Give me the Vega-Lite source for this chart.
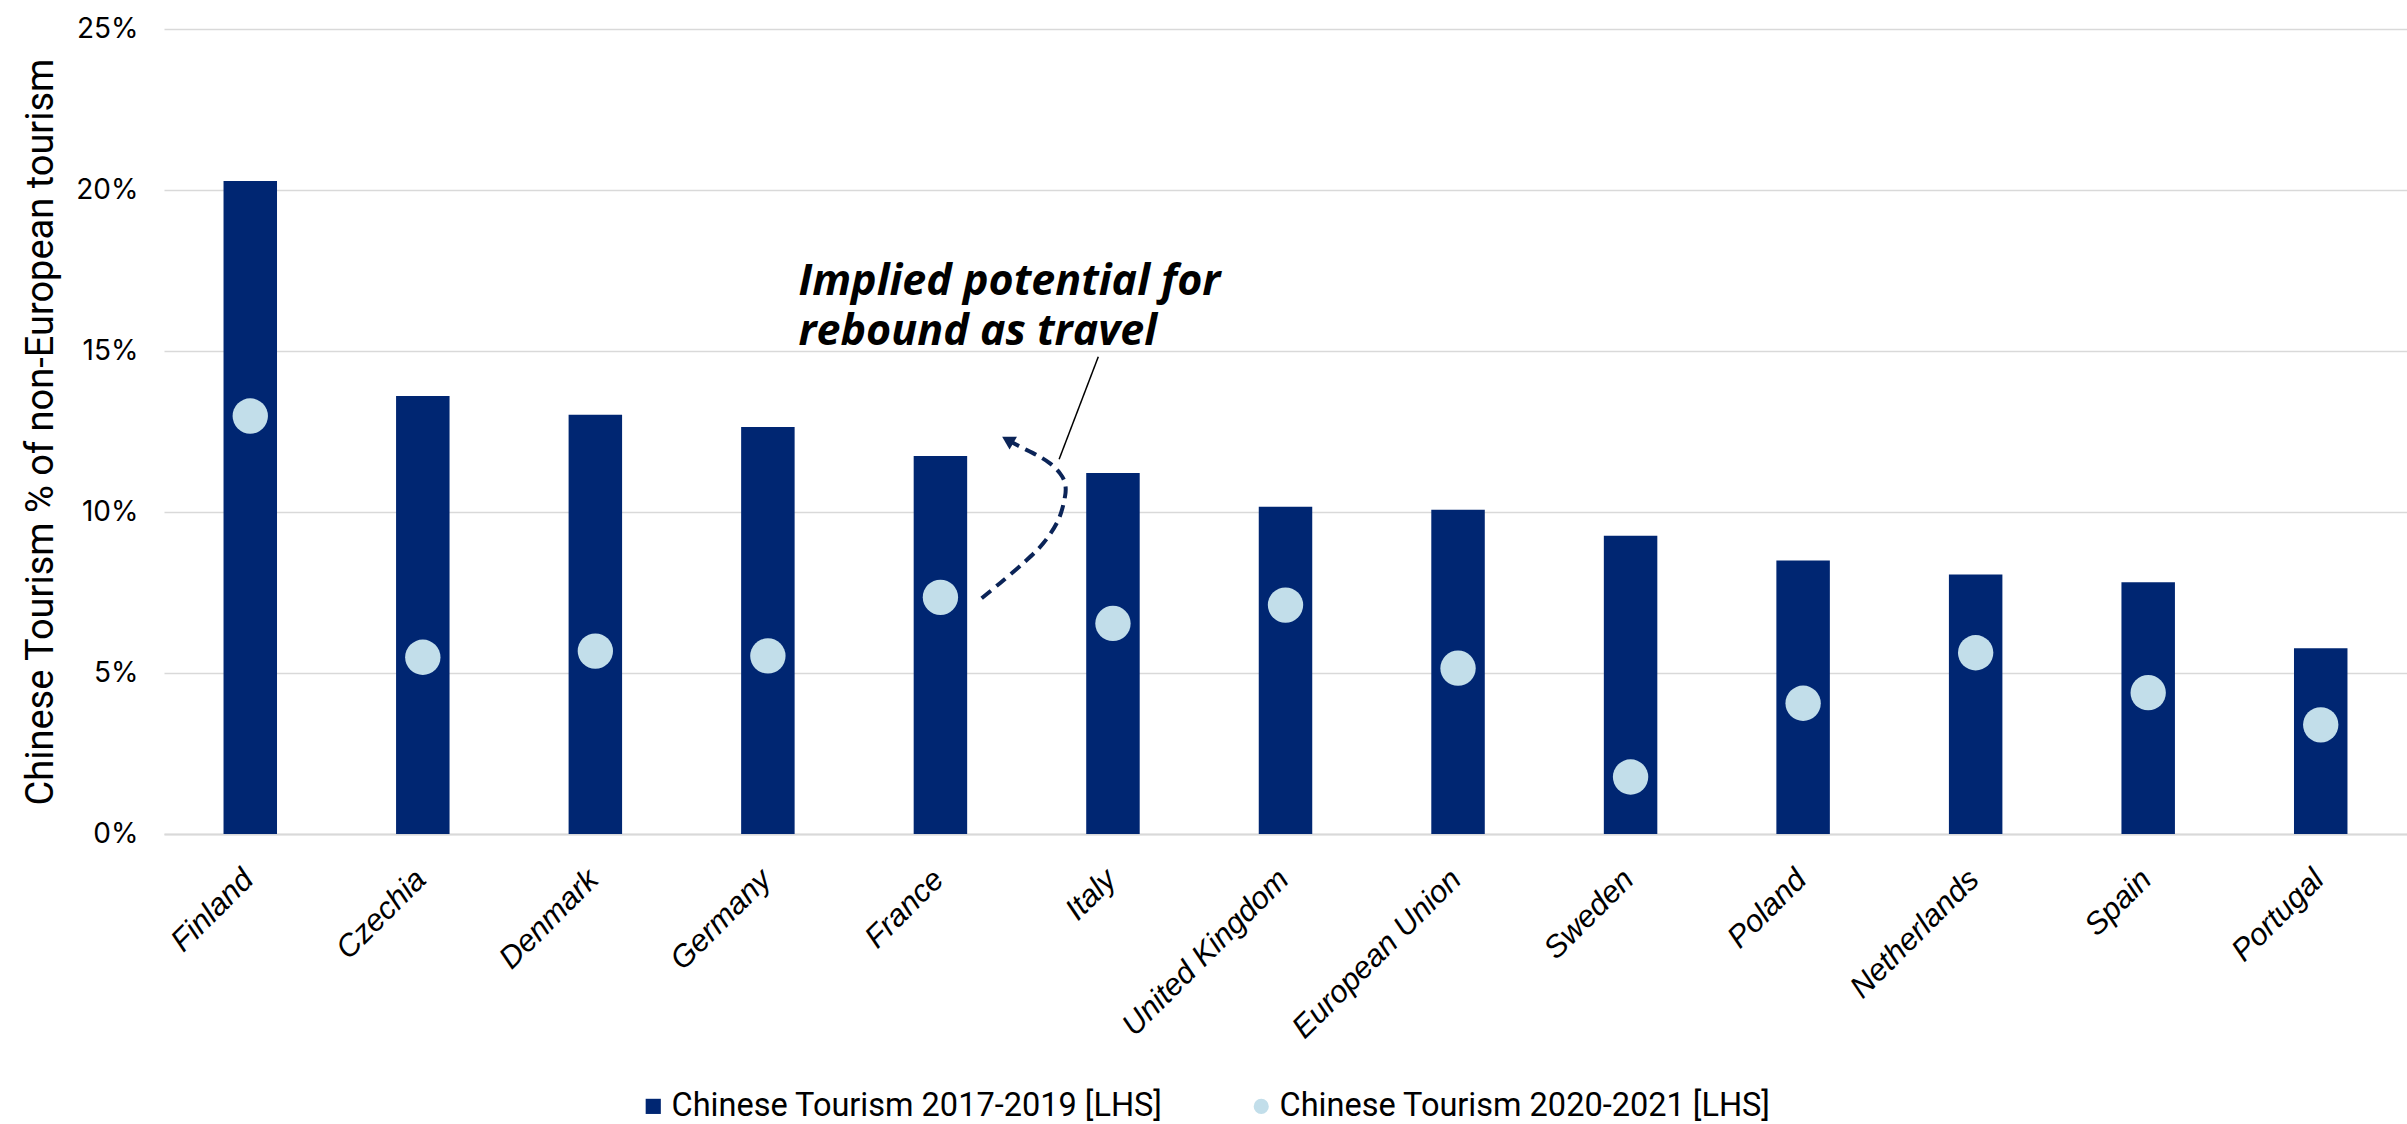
{
  "$schema": "https://vega.github.io/schema/vega-lite/v6.json",
  "width": 2243,
  "height": 805,
  "autosize": {"type": "none"},
  "padding": {"left": 164, "top": 29, "right": 0, "bottom": 290},
  "background": "white",
  "config": {"view": {"stroke": null}, "font": "Roboto"},
  "datasets": {
    "tourism": [
      {"country": "Finland", "pre": 20.28, "post": 12.98},
      {"country": "Czechia", "pre": 13.6, "post": 5.49},
      {"country": "Denmark", "pre": 13.02, "post": 5.68},
      {"country": "Germany", "pre": 12.64, "post": 5.53},
      {"country": "France", "pre": 11.74, "post": 7.35},
      {"country": "Italy", "pre": 11.21, "post": 6.54},
      {"country": "United Kingdom", "pre": 10.16, "post": 7.11},
      {"country": "European Union", "pre": 10.07, "post": 5.15},
      {"country": "Sweden", "pre": 9.26, "post": 1.77},
      {"country": "Poland", "pre": 8.49, "post": 4.06},
      {"country": "Netherlands", "pre": 8.06, "post": 5.63},
      {"country": "Spain", "pre": 7.82, "post": 4.39},
      {"country": "Portugal", "pre": 5.77, "post": 3.39}
    ],
    "note": [
      {"ax": 3.677, "ay": 16.74, "label": "Implied potential for"},
      {"ax": 3.677, "ay": 15.19, "label": "rebound as travel"}
    ],
    "leader": [
      {"ax": 5.415, "ay": 14.82, "ax2": 5.188, "ay2": 11.64}
    ],
    "curve": [
      {"i": 1, "ax": 4.739, "ay": 7.32},
      {"i": 2, "ax": 4.845, "ay": 7.79},
      {"i": 3, "ax": 4.98, "ay": 8.41},
      {"i": 4, "ax": 5.096, "ay": 9.03},
      {"i": 5, "ax": 5.183, "ay": 9.75},
      {"i": 6, "ax": 5.222, "ay": 10.48},
      {"i": 7, "ax": 5.222, "ay": 10.89},
      {"i": 8, "ax": 5.193, "ay": 11.2},
      {"i": 9, "ax": 5.135, "ay": 11.51},
      {"i": 10, "ax": 5.058, "ay": 11.77},
      {"i": 11, "ax": 4.961, "ay": 12.03},
      {"i": 12, "ax": 4.91, "ay": 12.18}
    ],
    "head": [
      {"ax": 4.89, "ay": 12.24}
    ]
  },
  "layer": [
    {
      "data": {"name": "tourism"},
      "encoding": {
        "x": {
          "field": "country",
          "type": "nominal",
          "sort": null,
          "scale": {"paddingInner": 0.69, "paddingOuter": 0.345},
          "axis": {
            "title": null,
            "domainColor": "#d9d9d9",
            "domainWidth": 2,
            "ticks": false,
            "labelAngle": -45,
            "labelFont": "Liberation Sans",
            "labelFontStyle": "italic",
            "labelFontSize": 31,
            "labelColor": "#000000",
            "labelPadding": 30,
            "labelOffset": -12,
            "labelLimit": 0
          }
        }
      },
      "layer": [
        {
          "mark": {"type": "bar"},
          "encoding": {
            "y": {
              "field": "pre",
              "type": "quantitative",
              "title": "Chinese Tourism % of non-European tourism",
              "scale": {"domain": [0, 25], "nice": false},
              "axis": {
                "values": [0, 5, 10, 15, 20, 25],
                "labelExpr": "datum.value + '%'",
                "domain": false,
                "ticks": false,
                "gridColor": "#d9d9d9",
                "gridWidth": 1.5,
                "labelFont": "Inter",
                "labelFontSize": 28,
                "labelColor": "#000000",
                "labelPadding": 26,
                "titleFont": "Roboto",
                "titleFontSize": 38,
                "titleFontWeight": "normal",
                "titleColor": "#000000",
                "titlePadding": 15
              }
            },
            "color": {
              "datum": "Chinese Tourism 2017-2019 [LHS]",
              "type": "nominal",
              "scale": {
                "domain": ["Chinese Tourism 2017-2019 [LHS]", "Chinese Tourism 2020-2021 [LHS]"],
                "range": ["#002672", "#c2deea"]
              },
              "legend": {
                "title": null,
                "orient": "none",
                "legendX": 473,
                "legendY": 1061,
                "direction": "horizontal",
                "labelFont": "Roboto",
                "labelFontSize": 32.5,
                "labelColor": "#000000",
                "labelLimit": 0,
                "symbolSize": 230,
                "symbolStrokeWidth": 0,
                "columnPadding": 82,
                "labelOffset": 2,
                "encode": {
                  "symbols": {
                    "update": {
                      "shape": {"signal": "datum.value === 'Chinese Tourism 2017-2019 [LHS]' ? 'square' : 'circle'"}
                    }
                  }
                }
              }
            }
          }
        },
        {
          "mark": {"type": "point", "shape": "circle", "filled": true, "opacity": 1, "size": 1250},
          "encoding": {
            "y": {"field": "post", "type": "quantitative", "title": "Chinese Tourism % of non-European tourism", "scale": {"domain": [0, 25], "nice": false}},
            "color": {"datum": "Chinese Tourism 2020-2021 [LHS]", "type": "nominal"}
          }
        }
      ]
    },
    {
      "layer": [
        {
          "data": {"name": "note"},
          "mark": {"type": "text", "align": "left", "baseline": "alphabetic", "font": "Open Sans", "fontSize": 43, "fontStyle": "italic", "fontWeight": "bold", "color": "#000000"},
          "encoding": {
            "x": {"field": "ax", "type": "quantitative", "scale": {"domain": [0, 13]}, "axis": null},
            "y": {"field": "ay", "type": "quantitative", "title": "Chinese Tourism % of non-European tourism", "scale": {"domain": [0, 25], "nice": false}},
            "text": {"field": "label"}
          }
        },
        {
          "data": {"name": "leader"},
          "mark": {"type": "rule", "color": "#000000", "strokeWidth": 1.5},
          "encoding": {
            "x": {"field": "ax", "type": "quantitative", "scale": {"domain": [0, 13]}, "axis": null},
            "y": {"field": "ay", "type": "quantitative", "title": "Chinese Tourism % of non-European tourism", "scale": {"domain": [0, 25], "nice": false}},
            "x2": {"field": "ax2"},
            "y2": {"field": "ay2"}
          }
        },
        {
          "data": {"name": "curve"},
          "mark": {"type": "line", "interpolate": "cardinal", "color": "#0b2458", "strokeWidth": 4, "strokeDash": [12, 7]},
          "encoding": {
            "x": {"field": "ax", "type": "quantitative", "scale": {"domain": [0, 13]}, "axis": null},
            "y": {"field": "ay", "type": "quantitative", "title": "Chinese Tourism % of non-European tourism", "scale": {"domain": [0, 25], "nice": false}},
            "order": {"field": "i", "type": "quantitative"}
          }
        },
        {
          "data": {"name": "head"},
          "mark": {"type": "point", "shape": "triangle-up", "filled": true, "opacity": 1, "size": 220, "angle": 300, "color": "#0b2458"},
          "encoding": {
            "x": {"field": "ax", "type": "quantitative", "scale": {"domain": [0, 13]}, "axis": null},
            "y": {"field": "ay", "type": "quantitative", "title": "Chinese Tourism % of non-European tourism", "scale": {"domain": [0, 25], "nice": false}}
          }
        }
      ]
    }
  ],
  "resolve": {"scale": {"x": "independent"}}
}
